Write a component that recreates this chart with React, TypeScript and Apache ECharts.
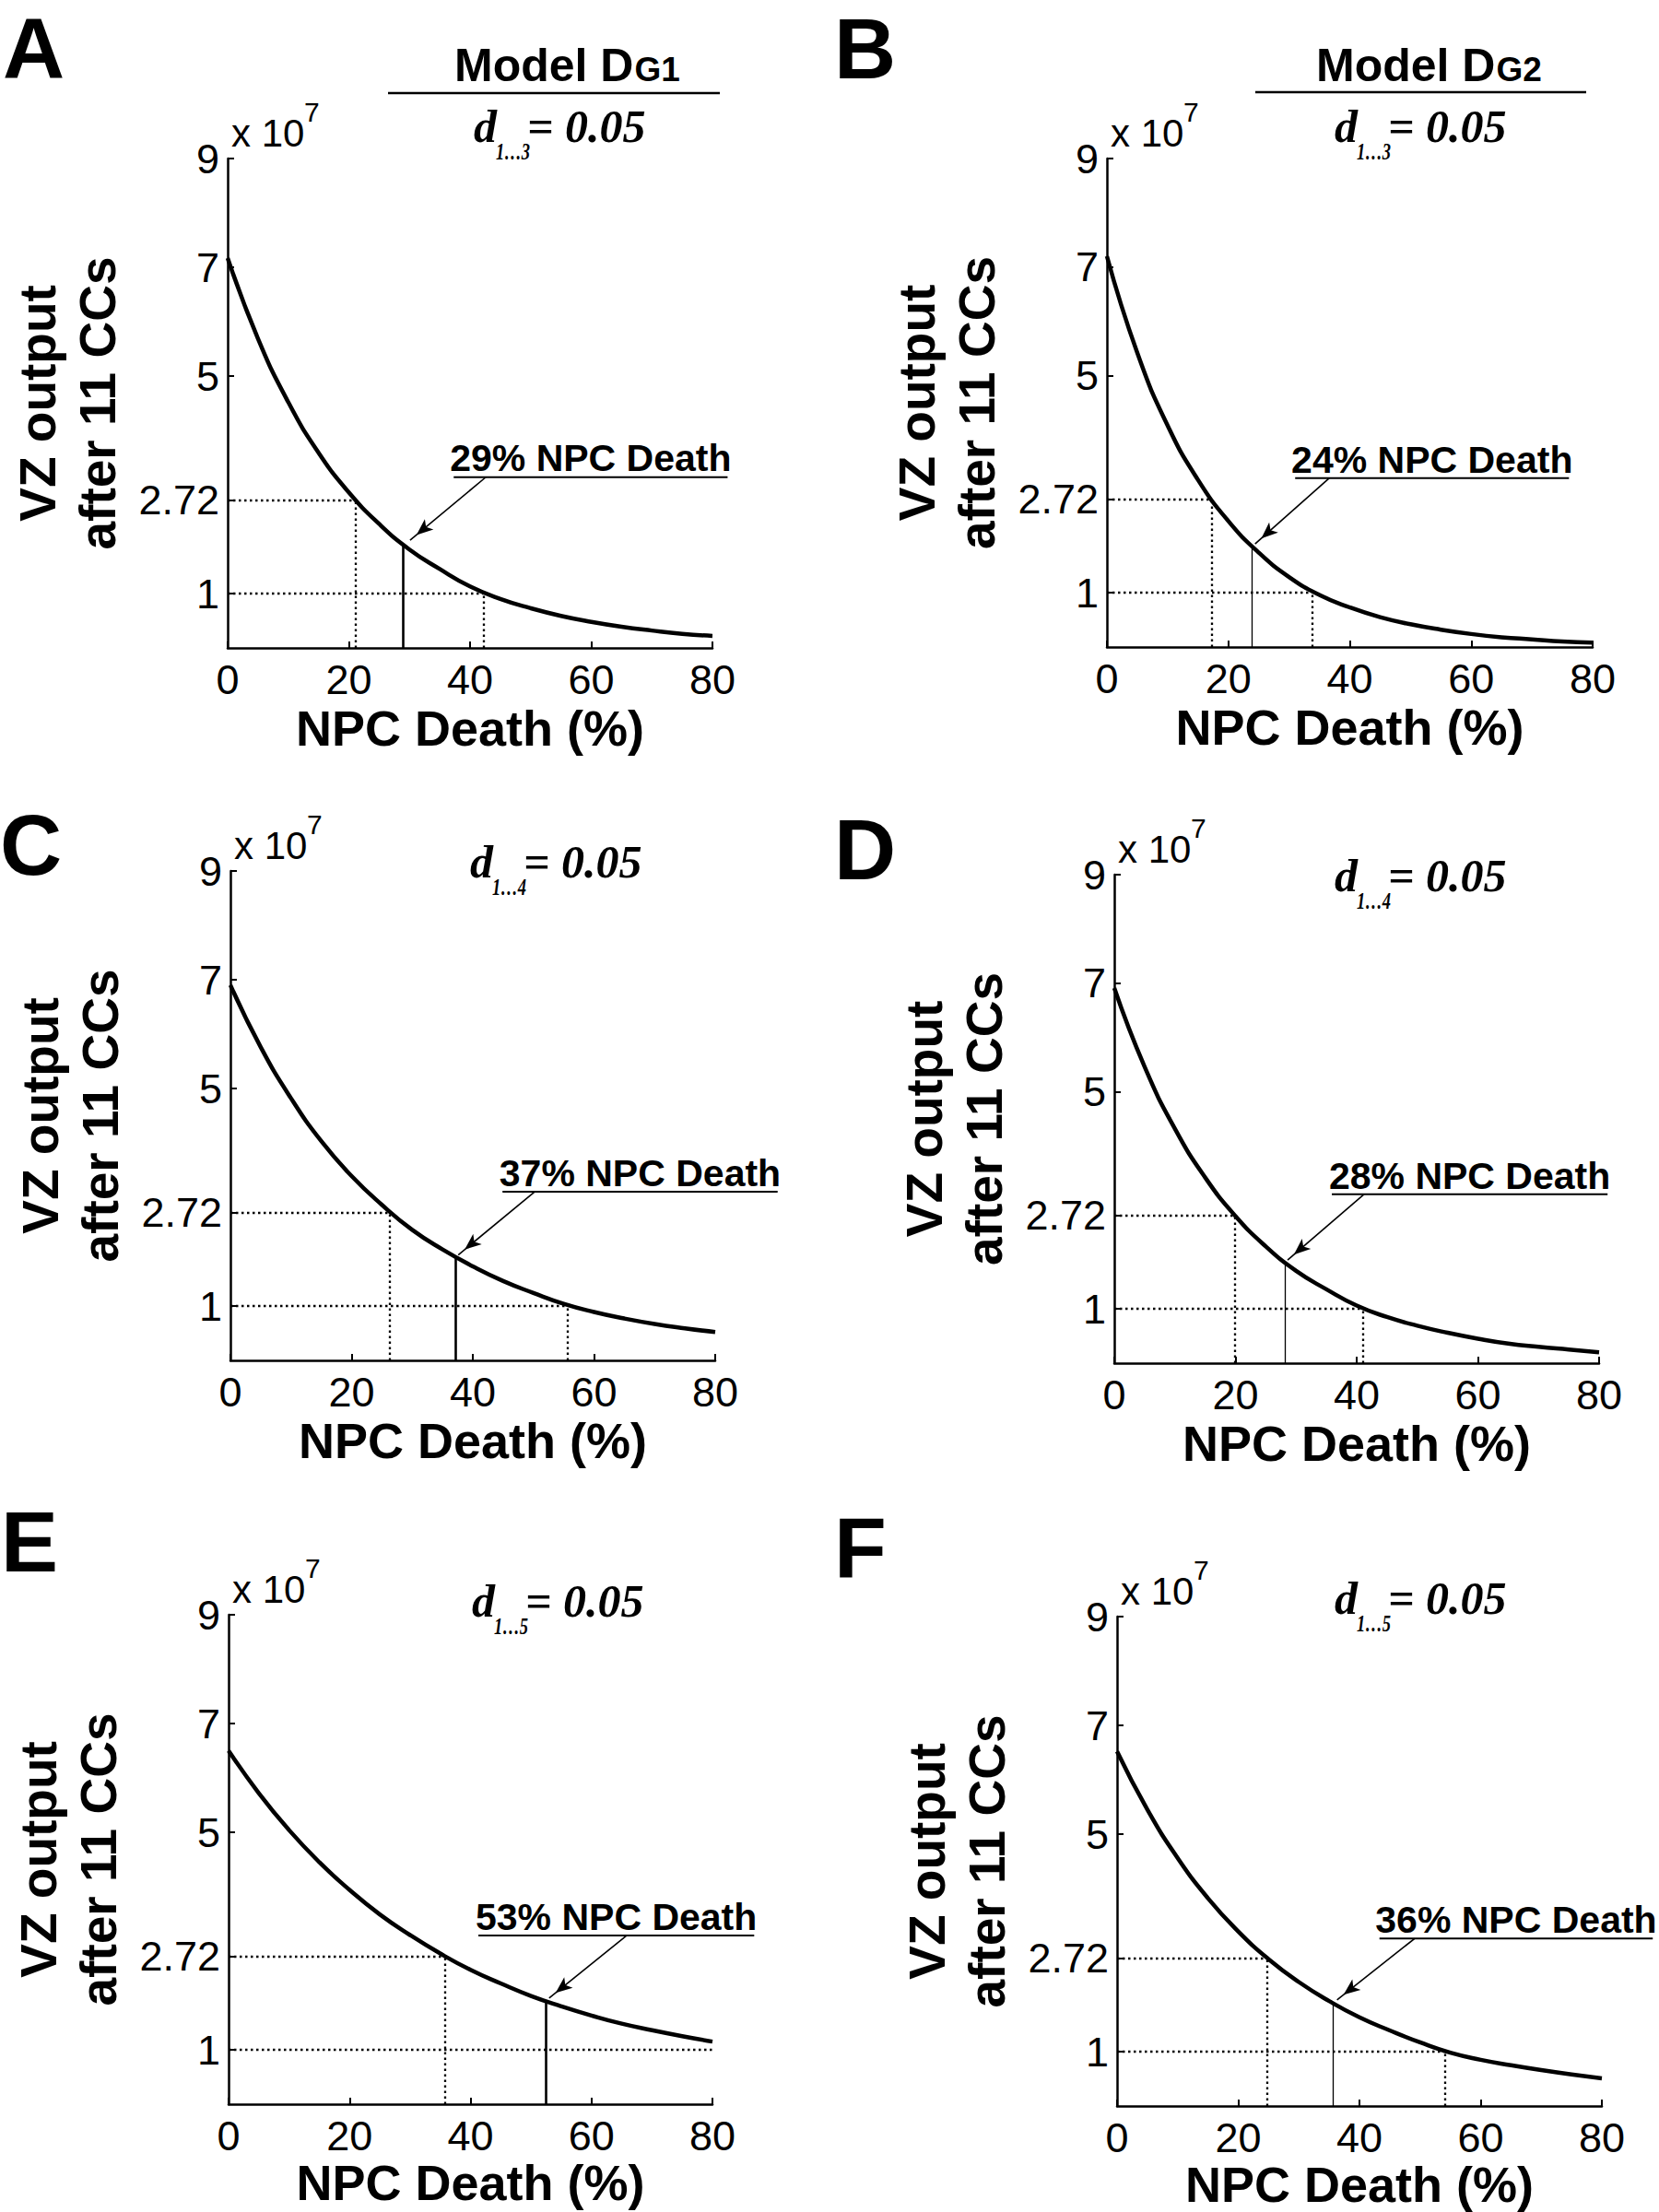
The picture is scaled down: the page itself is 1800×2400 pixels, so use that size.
import React, { useEffect, useRef } from "react";
import * as echarts from "echarts";

// ---------- data ----------
const npcDeath = [0, 5, 10, 15, 20, 25, 30, 35, 40, 45, 50, 55, 60, 65, 70, 75, 80];
const vzPanelA = [7.17, 5.69, 4.52, 3.59, 2.86, 2.28, 1.81, 1.45, 1.13, 0.9, 0.73, 0.59, 0.48, 0.39, 0.32, 0.26, 0.22];
const vzPanelB = [7.2, 5.42, 4.08, 3.08, 2.32, 1.74, 1.29, 0.96, 0.73, 0.55, 0.42, 0.32, 0.24, 0.18, 0.14, 0.1, 0.08];
const vzPanelC = [6.9, 5.76, 4.82, 4.03, 3.39, 2.86, 2.4, 2.04, 1.73, 1.46, 1.24, 1.04, 0.89, 0.77, 0.67, 0.59, 0.52];
const vzPanelD = [6.91, 5.46, 4.32, 3.42, 2.71, 2.15, 1.7, 1.36, 1.06, 0.85, 0.69, 0.56, 0.45, 0.36, 0.3, 0.25, 0.2];
const vzPanelE = [6.5, 5.72, 5.04, 4.45, 3.94, 3.49, 3.11, 2.77, 2.47, 2.22, 1.99, 1.8, 1.63, 1.48, 1.36, 1.25, 1.15];
const vzPanelF = [6.52, 5.45, 4.56, 3.82, 3.21, 2.7, 2.28, 1.93, 1.63, 1.39, 1.17, 0.98, 0.85, 0.75, 0.66, 0.58, 0.51];
const vzPanels = [vzPanelA, vzPanelB, vzPanelC, vzPanelD, vzPanelE, vzPanelF];

const xTickInterval = 20;
const yTickValues = [1, 2.72, 5, 7, 9];
const eLevel = 2.72;
const oneLevel = 1;

const panelLetters = ["A", "B", "C", "D", "E", "F"];
const deathLabels = ["29% NPC Death", "24% NPC Death", "37% NPC Death", "28% NPC Death", "53% NPC Death", "36% NPC Death"];
const subscriptLabels = ["1…3", "1…3", "1…4", "1…4", "1…5", "1…5"];
const modelSubs = ["G1", "G2"];

const markerDeath = [29, 23.8, 37.2, 28.1, 52.4, 35.7];
const markerVz = [1.9, 1.87, 1.9, 1.86, 1.9, 1.89];
const crossAtE = [21.1, 17.2, 26.3, 19.9, 35.8, 24.8];
const crossAtOne = [42.2, 33.8, 55.7, 41.1, 80, 54.1];
const hasOneDrop = [true, true, true, true, false, true];
const underlineStart = [37.3, 31.0, 44.9, 35.9, 41.3, 43.3];
const underlineEnd = [82.5, 76.1, 90.3, 81.4, 86.9, 88.4];
const underlineVz = [3.14, 3.11, 3.1, 3.11, 3.1, 3.08];
const arrowStartDeath = [42.6, 36.6, 50.2, 41.2, 65.8, 49.1];
const arrowEndDeath = [30.1, 24.4, 37.6, 28.6, 53.0, 36.3];
const arrowEndVz = [1.98, 1.9, 1.94, 1.9, 1.95, 1.95];

// ---------- layout ----------
const PANEL_LAYOUT = [
  { left: 247, top: 172, width: 526, height: 531, nameGap: 60 },
  { left: 1201, top: 172, width: 527, height: 530, nameGap: 60 },
  { left: 250, top: 945, width: 526, height: 531, nameGap: 60 },
  { left: 1209, top: 949, width: 526, height: 530, nameGap: 60 },
  { left: 248, top: 1752, width: 525, height: 531, nameGap: 53 },
  { left: 1212, top: 1754, width: 526, height: 531, nameGap: 53 },
];
const LETTER_SIZE = 93;
const LETTER_POS = [[3, 85], [905, 86], [0, 950], [905, 955], [1, 1706], [905, 1712]];
const D_POS = [[514, 154], [1448, 154], [510, 952], [1448, 967], [512, 1754], [1448, 1751]];
const MODEL_POS = [
  { text: 493, base: 88, line: [421, 781, 101] },
  { text: 1428, base: 88, line: [1362, 1721, 100] },
];
const MARKER_WIDTH = [2.6, 1.3, 2.6, 1.3, 2.6, 1.3];

const SANS = "'Liberation Sans', Arial, Helvetica, sans-serif";
const SERIF = "'Liberation Serif', 'Times New Roman', serif";

let measureCtx: CanvasRenderingContext2D | null = null;
function measure(text: string, font: string) {
  if (!measureCtx) measureCtx = document.createElement("canvas").getContext("2d");
  if (!measureCtx) return text.length * 20;
  measureCtx.font = font;
  return measureCtx.measureText(text).width;
}

function sansText(text: string, x: number, baseline: number, size: number, weight: string, align = "left", lineHeight?: number) {
  return {
    type: "text",
    x,
    y: baseline - 0.35 * size,
    silent: true,
    style: {
      text,
      fontSize: size,
      fontWeight: weight,
      fontFamily: SANS,
      fill: "#000",
      align,
      textAlign: align,
      verticalAlign: "middle",
      textVerticalAlign: "middle",
      lineHeight: lineHeight ?? size,
    },
  };
}

function serifText(text: string, x: number, baseline: number, size: number, scaleX = 1) {
  return {
    type: "text",
    x,
    y: baseline - 0.34 * size,
    scaleX,
    silent: true,
    style: {
      text,
      fontSize: size,
      fontWeight: "bold",
      fontStyle: "italic",
      fontFamily: SERIF,
      fill: "#000",
      align: "left",
      textAlign: "left",
      verticalAlign: "middle",
      textVerticalAlign: "middle",
    },
  };
}

function buildOption() {
  const dotted = { type: [2.5, 3.5], width: 2.3, color: "#000" };
  const axisLine = { show: true, onZero: false, lineStyle: { color: "#000", width: 2.5 } };
  return {
    animation: false,
    backgroundColor: "#fff",
    textStyle: { fontFamily: SANS, color: "#000" },
    grid: PANEL_LAYOUT.map((g) => ({ left: g.left, top: g.top, width: g.width, height: g.height, containLabel: false })),
    xAxis: PANEL_LAYOUT.map((g, i) => ({
      type: "value",
      gridIndex: i,
      min: 0,
      max: 80,
      interval: xTickInterval,
      axisLine,
      axisTick: { show: true, inside: true, length: 7, lineStyle: { color: "#000", width: 2 } },
      axisLabel: { color: "#000", fontSize: 45, fontFamily: SANS, margin: 12 },
      splitLine: { show: false },
      name: "NPC Death (%)",
      nameLocation: "middle",
      nameGap: g.nameGap,
      nameTextStyle: { color: "#000", fontSize: 54, fontWeight: "bold", fontFamily: SANS },
    })),
    yAxis: PANEL_LAYOUT.map((_, i) => ({
      type: "value",
      gridIndex: i,
      min: 0,
      max: 9,
      axisLine,
      axisTick: { show: true, inside: true, length: 7, customValues: yTickValues, lineStyle: { color: "#000", width: 2 } },
      axisLabel: { color: "#000", fontSize: 45, fontFamily: SANS, margin: 9, customValues: yTickValues },
      splitLine: { show: false },
    })),
    series: vzPanels.map((vals, i) => {
      const lines: any[] = [
        [{ coord: [0, eLevel], lineStyle: dotted }, { coord: [crossAtE[i], eLevel] }],
        [{ coord: [crossAtE[i], 0], lineStyle: dotted }, { coord: [crossAtE[i], eLevel] }],
        [{ coord: [0, oneLevel], lineStyle: dotted }, { coord: [crossAtOne[i], oneLevel] }],
      ];
      if (hasOneDrop[i]) {
        lines.push([{ coord: [crossAtOne[i], 0], lineStyle: dotted }, { coord: [crossAtOne[i], oneLevel] }]);
      }
      lines.push([
        { coord: [markerDeath[i], 0], lineStyle: { type: "solid", width: MARKER_WIDTH[i], color: "#000" } },
        { coord: [markerDeath[i], markerVz[i]] },
      ]);
      lines.push([
        { coord: [arrowStartDeath[i], underlineVz[i]], lineStyle: { type: "solid", width: 1.6, color: "#000" } },
        { coord: [arrowEndDeath[i], arrowEndVz[i]], symbol: "arrow", symbolSize: [11, 18], symbolOffset: [0, "50%"] },
      ]);
      return {
        type: "line",
        xAxisIndex: i,
        yAxisIndex: i,
        data: npcDeath.map((x, j) => [x, vals[j]]),
        smooth: 0.5,
        showSymbol: false,
        symbol: "none",
        clip: false,
        silent: true,
        itemStyle: { color: "#000" },
        lineStyle: { color: "#000", width: 4.5 },
        emphasis: { disabled: true },
        markLine: {
          silent: true,
          animation: false,
          symbol: ["none", "none"],
          itemStyle: { color: "#000" },
          label: { show: false },
          emphasis: { disabled: true },
          data: lines,
        },
      };
    }),
  };
}

function buildGraphics(chart: any) {
  const els: any[] = [];
  const dFont = 50;
  const subFont = 25;
  const subScale = 0.74;
  PANEL_LAYOUT.forEach((g, i) => {
    els.push(sansText(panelLetters[i], LETTER_POS[i][0], LETTER_POS[i][1], LETTER_SIZE, "bold", "left", 74));
    els.push({
      type: "text",
      x: g.left - 174,
      y: g.top + g.height / 2,
      rotation: Math.PI / 2,
      silent: true,
      style: {
        text: "VZ output\nafter 11 CCs",
        fontSize: 55,
        fontWeight: "bold",
        fontFamily: SANS,
        fill: "#000",
        align: "center",
        textAlign: "center",
        verticalAlign: "middle",
        textVerticalAlign: "middle",
        lineHeight: 65,
      },
    });
    els.push(sansText("x 10", g.left + 4, g.top - 13, 42, "normal"));
    els.push(sansText("7", g.left + 83, g.top - 40, 30, "normal"));

    const [dx, db] = D_POS[i];
    const dW = measure("d", `italic bold ${dFont}px ${SERIF}`);
    const subW = measure(subscriptLabels[i], `italic bold ${subFont}px ${SERIF}`) * subScale;
    els.push(serifText("d", dx, db, dFont));
    els.push(serifText(subscriptLabels[i], dx + dW - 1, db + 19, subFont, subScale));
    els.push(serifText("= 0.05", dx + dW + subW - 4, db, dFont));

    const p1 = chart.convertToPixel({ gridIndex: i }, [underlineStart[i], underlineVz[i]]);
    const p2 = chart.convertToPixel({ gridIndex: i }, [underlineEnd[i], underlineVz[i]]);
    els.push({
      type: "line",
      silent: true,
      shape: { x1: p1[0], y1: p1[1], x2: p2[0], y2: p2[1] },
      style: { stroke: "#000", lineWidth: 2 },
    });
    els.push(sansText(deathLabels[i], (p1[0] + p2[0]) / 2, p1[1] - 6, 41, "bold", "center"));
  });
  MODEL_POS.forEach((m, i) => {
    const size = 50;
    const w = measure("Model D", `bold ${size}px ${SANS}`);
    els.push(sansText("Model D", m.text, m.base, size, "bold"));
    els.push(sansText(modelSubs[i], m.text + w + 1, m.base, 37, "bold"));
    els.push({
      type: "line",
      silent: true,
      shape: { x1: m.line[0], y1: m.line[2], x2: m.line[1], y2: m.line[2] },
      style: { stroke: "#000", lineWidth: 2.5 },
    });
  });
  return els;
}

export default function App() {
  const ref = useRef<HTMLDivElement>(null);
  useEffect(() => {
    const el = ref.current;
    if (!el) return;
    const chart = echarts.init(el, null, { renderer: "svg" });
    chart.setOption(buildOption() as any);
    chart.setOption({ graphic: { elements: buildGraphics(chart) } } as any);
    return () => chart.dispose();
  }, []);
  return (
    <div
      ref={ref}
      style={{ position: "absolute", left: 0, top: 0, width: 1800, height: 2400, background: "#fff" }}
    />
  );
}
